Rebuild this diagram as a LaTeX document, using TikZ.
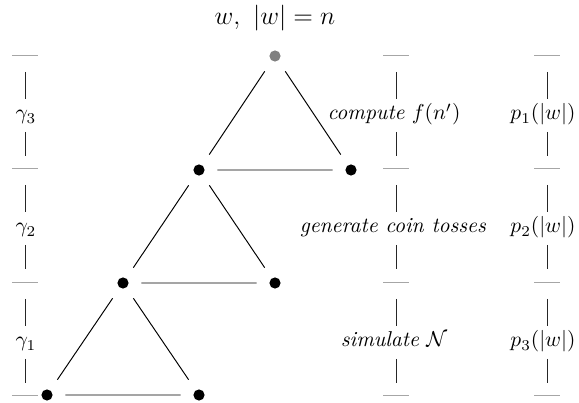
\documentclass[tikz,border=0pt]{standalone}
\begin{document}
\begin{tikzpicture}[x=0.465pt,y=-0.465pt,
  vtx/.style={circle,minimum size=16.8pt,inner sep=0pt,
     path picture={\fill[#1] (path picture bounding box.center) circle (2.6pt);}},
  vtx/.default=black,
  edge/.style={line width=0.45pt},
  rule/.style={gray!70,line width=0.45pt},
  bar/.style={black!85,line width=0.45pt},
  lbl/.style={anchor=base,inner sep=0pt}]
\useasboundingbox (0,0) rectangle (579,403);
% title
\node (title) at (275,18) {\large $w,\ |w| = n$};
% vertices
\node[vtx=gray] (a) at (275,56) {};
\node[vtx] (b) at (199,170) {};
\node[vtx] (c) at (351,170) {};
\node[vtx] (d) at (123,283) {};
\node[vtx] (e) at (275,283) {};
\node[vtx] (f) at (47,395) {};
\node[vtx] (g) at (199,395) {};
\draw[edge] (a)--(b) (a)--(c) (b)--(c)
            (b)--(d) (b)--(e) (d)--(e)
            (d)--(f) (d)--(g) (f)--(g);
% rulers
\foreach \x in {25,396,547}{
  \foreach \y in {55,168,282,395}{
    \draw[rule] (\x-13,\y) -- (\x+13,\y);
  }
  \foreach \y in {55,168,282}{
    \draw[bar] (\x,\y+17) -- (\x,\y+44);
    \draw[bar] (\x,\y+77) -- (\x,\y+101);
  }
}
% labels
\node[lbl] (g3) at (26,120) {$\gamma_3$};
\node[lbl] (g2) at (26,233) {$\gamma_2$};
\node[lbl] (g1) at (26,347) {$\gamma_1$};
\node[lbl] (s3) at (394,120) {\textit{compute} $f(n')$};
\node[lbl] (s2) at (393,233) {\textit{generate coin tosses}};
\node[lbl] (s1) at (394,347) {\textit{simulate} $\mathcal{N}$};
\node[lbl] (p1) at (543,120) {$p_1(|w|)$};
\node[lbl] (p2) at (543,233) {$p_2(|w|)$};
\node[lbl] (p3) at (543,347) {$p_3(|w|)$};
\end{tikzpicture}
\end{document}
